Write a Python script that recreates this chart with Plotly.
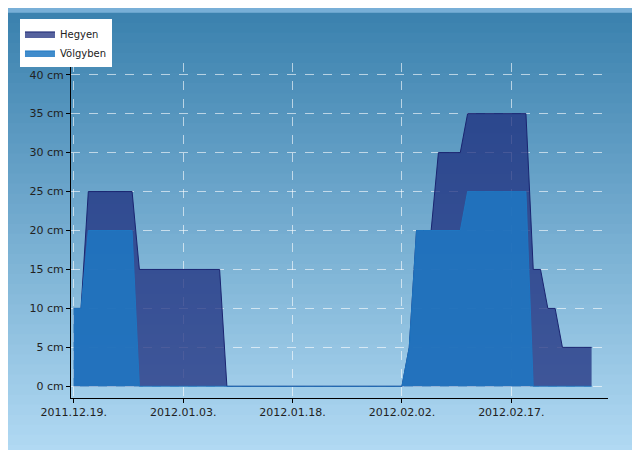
import plotly.graph_objects as go
import pandas as pd

dates = pd.date_range("2011-12-19", "2012-02-28", freq="D")
hegyen = ([10, 10] + [25] * 7 + [15] * 12 + [0] * 25 + [5] + [20] * 3 + [30] * 4
          + [35] * 9 + [15] * 2 + [10] * 2 + [5] * 5)
volgyben = ([10, 10] + [20] * 7 + [0] * 37 + [5] + [20] * 7 + [25] * 9 + [0] * 9)
yticks = list(range(0, 45, 5))
xticks = ["2011-12-19", "2012-01-03", "2012-01-18", "2012-02-02", "2012-02-17"]
xlabels = ["2011.12.19.", "2012.01.03.", "2012.01.18.", "2012.02.02.", "2012.02.17."]

fig = go.Figure()
fig.add_trace(go.Scatter(x=dates, y=hegyen, name="Hegyen", mode="lines",
                         fill="tozeroy", fillcolor="rgba(30,45,125,0.75)",
                         line=dict(color="#1a2470", width=1)))
fig.add_trace(go.Scatter(x=dates, y=volgyben, name="Völgyben", mode="lines",
                         fill="tozeroy", fillcolor="rgba(30,120,195,0.85)",
                         line=dict(color="rgba(30,120,195,0.9)", width=1)))

# background gradient
shapes = []
steps = 45
for i in range(steps):
    t = i / (steps - 1)
    r = int(60 + (180 - 60) * t)
    g = int(130 + (220 - 130) * t)
    b = int(175 + (245 - 175) * t)
    shapes.append(dict(type="rect", xref="paper", yref="paper", layer="below",
                       x0=-0.5, x1=1.5, y0=1.15 - 1.35 * i / steps, y1=1.15 - 1.35 * (i + 1) / steps - 0.01,
                       fillcolor=f"rgb({r},{g},{b})", line_width=0))

axis = dict(showline=True, linecolor="black", ticks="outside", ticklen=4,
            tickcolor="black", gridcolor="rgba(255,255,255,0.6)", griddash="dash",
            zeroline=False, tickfont=dict(family="DejaVu Sans", size=11, color="#222"))
fig.update_layout(
    width=640, height=450, margin=dict(l=60, r=40, t=48, b=60),
    paper_bgcolor="rgb(120,175,215)", plot_bgcolor="rgba(0,0,0,0)", shapes=shapes,
    xaxis=dict(axis, tickvals=xticks, ticktext=xlabels,
               range=["2011-12-18 15:00", "2012-03-01 06:00"]),
    yaxis=dict(axis, tickvals=yticks, ticktext=[f"{v} cm" for v in yticks], range=[-1.5, 41.5]),
    legend=dict(x=-0.095, y=1.13, xanchor="left", yanchor="top", bgcolor="white",
                font=dict(family="DejaVu Sans", size=10, color="#222"),
                itemwidth=30, tracegroupgap=0),
    showlegend=True,
)
fig.write_html("out.html")
